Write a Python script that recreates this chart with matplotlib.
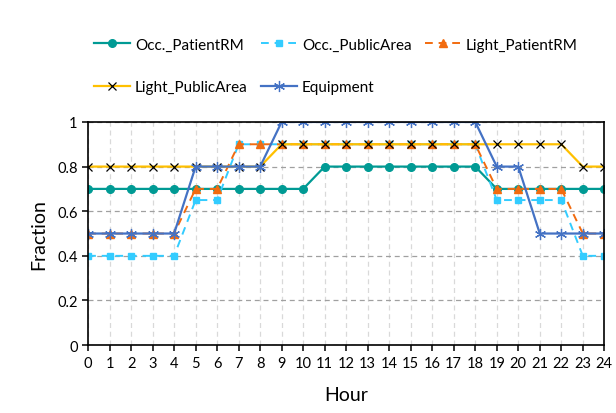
import matplotlib
matplotlib.use("Agg")
import matplotlib.pyplot as plt

plt.rcParams['font.family'] = ['Lato', 'DejaVu Sans']

# Données
hours = list(range(25))
occ_patient = [0.7]*11 + [0.8]*8 + [0.7]*6
occ_public = [0.4]*5 + [0.65]*2 + [0.9]*12 + [0.65]*4 + [0.4]*2
light_patient = [0.5]*5 + [0.7]*2 + [0.9]*12 + [0.7]*4 + [0.5]*2
light_public = [0.8]*9 + [0.9]*14 + [0.8]*2
equipment = [0.5]*5 + [0.8]*4 + [1.0]*10 + [0.8]*2 + [0.5]*4

fig = plt.figure(figsize=(6.16, 4.14), dpi=100)
ax = fig.add_axes([0.143, 0.164, 0.838, 0.539])

h1, = ax.plot(hours, occ_patient, color='#009a94', lw=1.6, marker='o', ms=5.5, label='Occ._PatientRM')
h2, = ax.plot(hours, occ_public, color='#33ccff', lw=1.4, ls=(0, (4, 3)), marker='s', ms=5, label='Occ._PublicArea')
h3, = ax.plot(hours, light_patient, color='#f26b0f', lw=1.4, ls=(0, (4, 3)), marker='^', ms=6, label='Light_PatientRM')
h4, = ax.plot(hours, light_public, color='#ffc000', lw=1.6, marker='x', ms=6, mec='black', mew=0.9, label='Light_PublicArea')
h5, = ax.plot(hours, equipment, color='#4472c4', lw=1.6, marker=(6, 2, 0), ms=8, mew=0.9, label='Equipment')

ax.set_xlim(0, 24)
ax.set_ylim(0, 1)
ax.set_xticks(hours)
ax.set_yticks([0, 0.2, 0.4, 0.6, 0.8, 1])
ax.set_yticklabels(['0', '0.2', '0.4', '0.6', '0.8', '1'])
ax.tick_params(axis='both', labelsize=10.5, direction='out', length=4, width=1.1)
ax.grid(axis='y', color='#a0a0a0', ls=(0, (4, 3)), lw=0.9)
ax.grid(axis='x', color='#d9d9d9', ls=(0, (4, 3)), lw=0.9)
ax.set_axisbelow(True)
for s in ax.spines.values():
    s.set_linewidth(1.2)
ax.set_xlabel('Hour', fontsize=14, labelpad=12)
ax.set_ylabel('Fraction', fontsize=14, labelpad=7)

# ordre de la légende : ligne par ligne
handles = [h1, h4, h2, h5, h3]
fig.legend(handles=handles, labels=[h.get_label() for h in handles], ncol=3,
           loc='upper left', bbox_to_anchor=(0.13, 0.94), frameon=False,
           fontsize=11, handlelength=2.4, columnspacing=0.85, labelspacing=1.85,
           handletextpad=0.3)

fig.savefig('out.png', dpi=100)
